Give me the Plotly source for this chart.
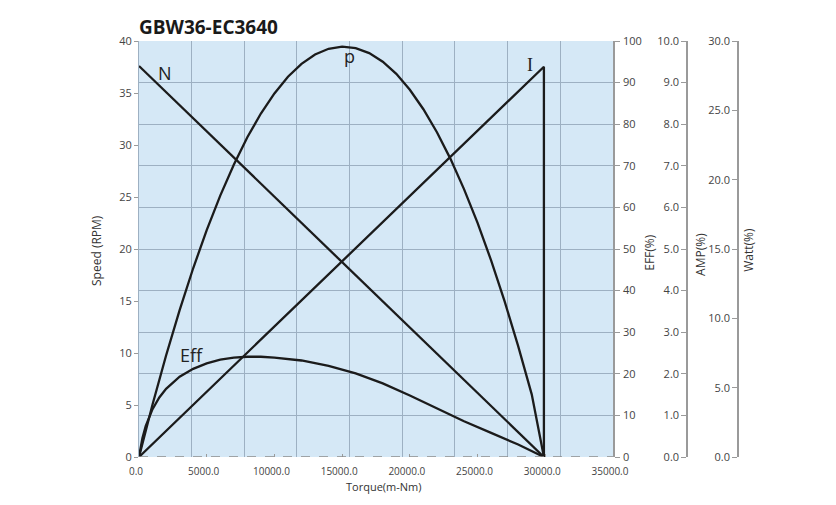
import plotly.graph_objects as go

# Torque axis values (m-Nm)
torque_line = [0, 29900]
speed_rpm = [37.6, 0]

torque_amp = [0, 29900, 29900]
current_amp = [0, 9.38, 0]

torque_pw = [0, 1000, 2000, 3000, 4000, 5000, 6000, 7000, 8000, 9000, 10000,
             11000, 12000, 13000, 14000, 15000, 16000, 17000, 18000, 19000,
             20000, 21000, 22000, 23000, 24000, 25000, 26000, 27000, 28000,
             29000, 29900]
power_w = [0, 3.79, 7.32, 10.59, 13.61, 16.36, 18.85, 21.08, 23.06, 24.77,
           26.22, 27.42, 28.35, 29.03, 29.44, 29.60, 29.49, 29.13, 28.51,
           27.63, 26.48, 25.08, 23.42, 21.50, 19.32, 16.88, 14.18, 11.22,
           8.00, 4.52, 0]

torque_eff = [0, 250, 500, 1000, 1500, 2000, 3000, 4000, 5000, 6000, 7000,
              8000, 9000, 10000, 12000, 14000, 16000, 18000, 20000, 22000,
              24000, 26000, 28000, 29900]
eff_pct = [0, 4.5, 7.5, 11.5, 14.3, 16.4, 19.3, 21.2, 22.5, 23.4, 23.9,
           24.1, 24.1, 23.9, 23.2, 21.9, 20.1, 17.7, 14.8, 11.7,
           8.6, 5.8, 3.0, 0]

x_ticks = [0, 5000, 10000, 15000, 20000, 25000, 30000, 35000]

LINE = dict(color="#1b1b1b", width=2.3)
TICK_FONT = dict(family="Open Sans", size=11, color="#444444")
X_TICK_FONT = dict(family="Open Sans", size=10, color="#444444")
AX_COL = "#9a9a9a"
GRID_COL = "#9db0c2"

fig = go.Figure()

# dummy trace so the vertical grid axis gets drawn
fig.add_trace(go.Scatter(x=[None], y=[None], xaxis="x2", yaxis="y",
                         showlegend=False, hoverinfo="skip"))

fig.add_trace(go.Scatter(x=torque_line, y=speed_rpm, mode="lines", name="N",
                         line=LINE, yaxis="y"))
fig.add_trace(go.Scatter(x=torque_pw, y=power_w, mode="lines", name="p",
                         line=LINE, yaxis="y4"))
fig.add_trace(go.Scatter(x=torque_amp, y=current_amp, mode="lines", name="I",
                         line=LINE, yaxis="y3"))
fig.add_trace(go.Scatter(x=torque_eff, y=eff_pct, mode="lines", name="Eff",
                         line=LINE, yaxis="y2"))

dom = [0, 0.7682]

fig.update_layout(
    width=836, height=505,
    margin=dict(l=131, r=88, t=33, b=56),
    paper_bgcolor="white",
    plot_bgcolor="#d5e8f6",
    showlegend=False,
    font=TICK_FONT,
    xaxis=dict(domain=dom, range=[0, 35000], tickvals=x_ticks,
               tickformat=".1f", showgrid=False, zeroline=False,
               ticks="inside", ticklen=3, tickcolor=AX_COL, showline=False,
               ticklabelstandoff=7, ticklabelshift=-3, tickfont=X_TICK_FONT),
    xaxis2=dict(domain=dom, overlaying="x", range=[0, 9], dtick=1,
                showgrid=True, gridcolor=GRID_COL, gridwidth=1,
                showticklabels=False, ticks="", zeroline=False,
                showline=False),
    yaxis=dict(range=[0, 40], dtick=5, showgrid=False, zeroline=False,
               showline=True, linecolor=GRID_COL, linewidth=1,
               ticks="outside", ticklen=4, tickcolor=AX_COL,
               tickfont=TICK_FONT),
    yaxis2=dict(overlaying="y", side="right", anchor="x", range=[0, 100],
                dtick=10, showgrid=True, gridcolor=GRID_COL, gridwidth=1,
                zeroline=False, showline=True, linecolor=AX_COL, linewidth=1.5,
                ticks="outside", ticklen=5, tickcolor=AX_COL,
                ticklabelstandoff=1, tickfont=TICK_FONT),
    yaxis3=dict(overlaying="y", side="left", anchor="free", position=0.8882,
                range=[0, 10], dtick=1, tickformat=".1f", showgrid=False,
                zeroline=False, showline=True, linecolor=AX_COL, linewidth=1.5,
                ticks="outside", ticklen=5, tickcolor=AX_COL,
                tickfont=TICK_FONT),
    yaxis4=dict(overlaying="y", side="left", anchor="free", position=0.9708,
                range=[0, 30], dtick=5, tickformat=".1f", showgrid=False,
                zeroline=False, showline=True, linecolor=AX_COL, linewidth=1.5,
                ticks="outside", ticklen=5, tickcolor=AX_COL,
                tickfont=TICK_FONT),
)

# dashed bottom axis line
fig.add_shape(type="line", xref="x", yref="y", x0=0, x1=35000, y0=0, y1=0,
              line=dict(color="#8c8c8c", width=1.5, dash="dash"))

title_font = dict(family="Open Sans", size=12, color="#333333")
axis_titles = [
    ("Speed (RPM)", -0.0681, 0.4976),
    ("EFF(%)", 0.828, 0.493),
    ("AMP(%)", 0.911, 0.486),
    ("Watt(%)", 0.9887, 0.498),
]
for txt, ax, ay in axis_titles:
    fig.add_annotation(text=txt, xref="paper", yref="paper", x=ax, y=ay,
                       textangle=-90, showarrow=False, font=title_font,
                       xanchor="center", yanchor="middle")

fig.add_annotation(text="Torque(m-Nm)", xref="paper", yref="paper",
                   x=0.397, y=-0.071, xanchor="center", yanchor="middle",
                   showarrow=False,
                   font=dict(family="Open Sans", size=11, color="#333333"))

fig.add_annotation(text="<b>GBW36-EC3640</b>", xref="paper", yref="paper",
                   x=-0.004, y=1.034, xanchor="left", yanchor="middle",
                   showarrow=False,
                   font=dict(family="Open Sans", size=19, color="#1a1a1a"))

# curve labels
curve_font = dict(family="Open Sans", size=18, color="#222222")
labels = [("N", 1920, 36.9, "Open Sans"), ("p", 15580, 38.6, "Open Sans"),
          ("I", 28870, 37.7, "Liberation Serif"), ("Eff", 3910, 9.8, "Open Sans")]
for txt, lx, ly, fam in labels:
    fig.add_annotation(text=txt, x=lx, y=ly, xref="x", yref="y",
                       showarrow=False, font=dict(curve_font, family=fam))

fig.write_html("out.html")
